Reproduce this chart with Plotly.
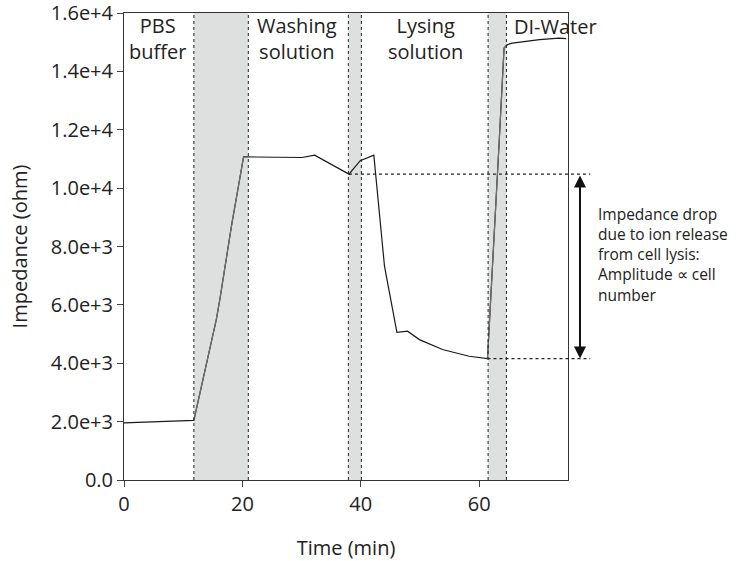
import plotly.graph_objects as go

# ---- data ----
time_min = [0, 11.8, 15.6, 16.2, 18.2, 20.2, 30.1, 32.2, 38.0, 39.9, 42.2,
            44.0, 46.1, 47.9, 49.9, 53.8, 58.3, 61.4, 63.4, 64.2, 64.7,
            65.6, 70.2, 73.5, 74.7]
impedance = [1960, 2040, 5500, 6200, 8760, 11070, 11050, 11130, 10480, 10940, 11130,
             7330, 5060, 5100, 4810, 4470, 4240, 4160, 11680, 14800, 14910,
             14970, 15090, 15140, 15120]

bands = [(11.8, 21.0), (37.9, 40.1), (61.5, 64.6)]
phase_labels = ["PBS<br>buffer", "Washing<br>solution", "Lysing<br>solution", "DI-Water"]
phase_x = [5.6, 29.3, 51.0, 65.6]
phase_anchor = ["center", "center", "center", "left"]
phase_rows = [2, 2, 2, 1]
note_text = "Impedance drop<br>due to ion release<br>from cell lysis:<br>Amplitude \u221d cell<br>number"

drop_top = 10480
drop_bottom = 4160
drop_top_start = 38.0
drop_bottom_start = 61.4

y_ticks = [0, 2000, 4000, 6000, 8000, 10000, 12000, 14000, 16000]
y_ticktext = ["0.0", "2.0e+3", "4.0e+3", "6.0e+3", "8.0e+3", "1.0e+4", "1.2e+4", "1.4e+4", "1.6e+4"]
x_ticks = [0, 20, 40, 60]

XMAX = 75
YMAX = 16000
FONT = "Open Sans"
W, H = 745, 561
ML, MR, MT, MB = 124, 177, 13, 81
PLOT_H = H - MT - MB

fig = go.Figure()

fig.add_trace(go.Scatter(x=time_min, y=impedance, mode="lines",
                         line=dict(color="#1a1a1a", width=1.2), showlegend=False,
                         hoverinfo="skip"))

# gray overlay for the rise segments inside shaded bands
gx, gy = [], []
for (a, b) in [bands[0], bands[2]]:
    for i in range(len(time_min) - 1):
        if time_min[i] >= a - 0.3 and time_min[i + 1] <= b + 0.3:
            gx += [time_min[i], time_min[i + 1], None]
            gy += [impedance[i], impedance[i + 1], None]
fig.add_trace(go.Scatter(x=gx, y=gy, mode="lines",
                         line=dict(color="#707070", width=1.2), showlegend=False,
                         hoverinfo="skip"))

shapes = []
for (a, b) in bands:
    shapes.append(dict(type="rect", xref="x", yref="paper", x0=a, x1=b, y0=0, y1=1,
                       fillcolor="#dedfdf", line=dict(width=0), layer="below"))
    for xv in (a, b):
        shapes.append(dict(type="line", xref="x", yref="paper", x0=xv, x1=xv, y0=0, y1=1,
                           line=dict(color="#222", width=1, dash="dot"), layer="above"))

end_paper = 1.05
shapes.append(dict(type="line", xref="paper", yref="y", x0=drop_top_start / XMAX, x1=end_paper,
                   y0=drop_top, y1=drop_top, line=dict(color="#222", width=1.4, dash="dot")))
shapes.append(dict(type="line", xref="paper", yref="y", x0=drop_bottom_start / XMAX, x1=end_paper,
                   y0=drop_bottom, y1=drop_bottom, line=dict(color="#222", width=1.4, dash="dot")))

annotations = []
for txt, xv, anchor, rows in zip(phase_labels, phase_x, phase_anchor, phase_rows):
    annotations.append(dict(x=xv, y=1, xref="x", yref="paper", text=txt, showarrow=False,
                            xanchor=anchor, yanchor="middle", align="center",
                            yshift=-(13 if rows == 1 else 25),
                            font=dict(family=FONT, size=20, color="#222")))

# double-headed arrow
arrow_px = -(drop_top - drop_bottom) / YMAX * PLOT_H
annotations.append(dict(x=1.027, y=drop_bottom, xref="paper", yref="y",
                        ax=0, ay=arrow_px, axref="pixel", ayref="pixel",
                        text="", showarrow=True, arrowhead=2, arrowside="end+start",
                        arrowsize=1.2, arrowwidth=2, arrowcolor="#111", standoff=0, startstandoff=0))

annotations.append(dict(x=1.062, y=1, xref="paper", yref="paper", xanchor="left", yanchor="middle",
                        yshift=-(254.5 - MT), text=note_text, showarrow=False, align="left",
                        font=dict(family=FONT, size=15.5, color="#222")))

fig.update_layout(
    width=W, height=H,
    margin=dict(l=ML, r=MR, t=MT, b=MB, autoexpand=False),
    plot_bgcolor="white", paper_bgcolor="white",
    shapes=shapes, annotations=annotations,
    font=dict(family=FONT, size=20, color="#222"),
    xaxis=dict(range=[0, XMAX], tickvals=x_ticks, ticks="outside", ticklen=6,
               showline=True, linecolor="#333", linewidth=1, mirror=True, showgrid=False,
               zeroline=False, title=dict(text="Time (min)", font=dict(size=20), standoff=25),
               tickfont=dict(size=20), ticklabeloverflow="allow", automargin=False),
    yaxis=dict(range=[0, YMAX], tickvals=y_ticks, ticktext=y_ticktext, ticks="outside", ticklen=6,
               showline=True, linecolor="#333", linewidth=1, mirror=True, showgrid=False,
               zeroline=False, title=dict(text="Impedance (ohm)", font=dict(size=20), standoff=17),
               tickfont=dict(size=20), ticklabeloverflow="allow", automargin=False),
)

fig.write_html("out.html")
